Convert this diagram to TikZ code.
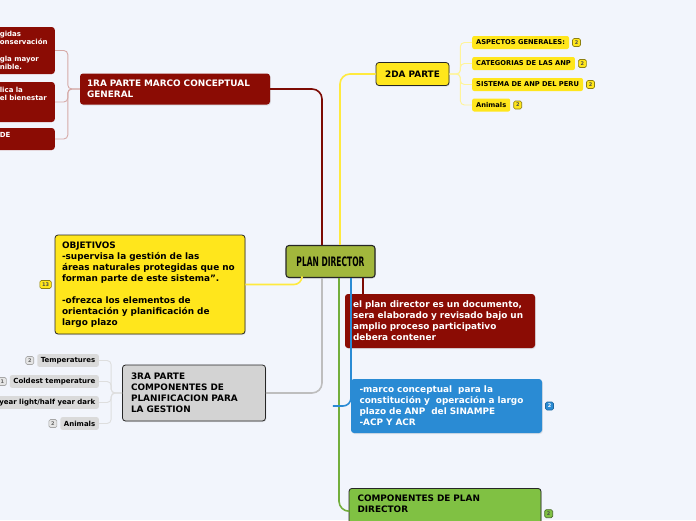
\documentclass[tikz,border=0pt]{standalone}
\usepackage{fontspec}
\setmainfont{DejaVu Sans}
\newfontfamily\pdfont[FakeStretch=0.58]{DejaVu Sans}
\usetikzlibrary{shadows}

\definecolor{paper}{HTML}{F2F5FC}
\definecolor{maroon}{HTML}{8B0C04}
\definecolor{sun}{HTML}{FFE61C}
\definecolor{olive}{HTML}{A2B73C}
\definecolor{stone}{HTML}{D3D3D3}
\definecolor{sky}{HTML}{2A8BD4}
\definecolor{leaf}{HTML}{80C143}

\tikzset{
  topic/.style={rounded corners=3pt, inner xsep=7pt, inner ysep=0pt, align=left,
    font=\bfseries\fontsize{8.9}{11}\selectfont,
    drop shadow={opacity=0.18, shadow xshift=0.8pt, shadow yshift=-1pt}},
  edged/.style={draw=black!85, line width=0.8pt},
  leafred/.style={rounded corners=3pt, fill=maroon, text=white, inner xsep=5pt, inner ysep=0pt,
    align=left, text width=50pt, font=\bfseries\fontsize{7}{8.4}\selectfont},
  tagyel/.style={rounded corners=2pt, fill=sun, inner xsep=4pt, inner ysep=0pt, minimum height=13pt,
    font=\bfseries\fontsize{6.7}{7}\selectfont},
  taggray/.style={rounded corners=2pt, fill=stone!85, inner xsep=3.5pt, inner ysep=0pt, minimum height=12.6pt,
    font=\bfseries\fontsize{7}{8}\selectfont},
  badge/.style={rounded corners=1.5pt, minimum size=8pt, inner sep=0pt, line width=0.6pt,
    font=\bfseries\fontsize{5}{5.5}\selectfont},
  badgeyel/.style={badge, fill=sun, draw=sun!55!black, text=black!70},
  badgegray/.style={badge, fill=stone!60, draw=black!35, text=black!60},
  trunk/.style={line width=1.6pt, rounded corners=10pt},
  twig/.style={line width=0.9pt, rounded corners=4pt}
}

\begin{document}
\begin{tikzpicture}[x=1pt, y=-1pt]
\useasboundingbox (0,0) rectangle (696,520);
\fill[paper] (0,0) rectangle (696,520);

% centre
\node[topic, edged, fill=olive, line width=1.1pt, align=center, minimum width=89pt, minimum height=32pt,
  font=\pdfont\bfseries\fontsize{13}{14}\selectfont] (ctr) at (330.5,261.5) {PLAN DIRECTOR};

% 1ra parte
\node[topic, fill=maroon, text=white, text width=176pt, minimum height=31pt] (marco) at (175,89)
  {1RA PARTE MARCO CONCEPTUAL\\GENERAL};
\node[leafred, minimum height=47pt, anchor=east] (ma) at (55,50.5)
  {gidas\\onservación\\~\\gla mayor\\nible.};
\node[leafred, minimum height=40pt, anchor=east] (mb) at (55,102)
  {lica la\\el bienestar\\~\\~};
\node[leafred, minimum height=22pt, anchor=east] (mc) at (55,139)
  {DE\\~};

% 2da parte
\node[topic, edged, fill=sun, align=center, minimum width=73pt, minimum height=23pt] (parte2) at (412.5,74) {2DA PARTE};
\node[tagyel, anchor=west] (asp) at (472,42.5) {ASPECTOS GENERALES:};
\node[tagyel, anchor=west] (cat) at (472,63.5) {CATEGORIAS DE LAS ANP};
\node[tagyel, anchor=west] (sis) at (472,84.5) {SISTEMA DE ANP DEL PERU};
\node[tagyel, anchor=west] (ani) at (472,105) {Animals};
\foreach \t in {asp,cat,sis,ani}
  \node[badgeyel, anchor=west] at ([xshift=3pt]\t.east) {2};

% objetivos
\node[topic, edged, fill=sun, text width=176pt, minimum height=99pt] (obj) at (150,284.5)
  {OBJETIVOS\\-supervisa la gestión de las\\áreas naturales protegidas que no\\forman parte de este sistema".\\~\\-ofrezca los elementos de\\orientación y planificación de\\largo plazo};
\node[badgeyel, minimum width=11.5pt, anchor=east] at ([xshift=-3pt]obj.west) {13};

% 3ra parte
\node[topic, edged, fill=stone, inner xsep=8.5pt, text width=126pt, minimum height=56pt] (gestion) at (194,393)
  {3RA PARTE\\COMPONENTES DE\\PLANIFICACION PARA\\LA GESTION};
\node[taggray, anchor=east] (temp) at (99,360.5) {Temperatures};
\node[taggray, anchor=east] (cold) at (99,381.5) {Coldest temperature};
\node[taggray, anchor=east] (half) at (99,402.5) {year light/half year dark};
\node[taggray, anchor=east] (anim) at (99,423.5) {Animals};
\node[badgegray, anchor=east] at ([xshift=-3pt]temp.west) {2};
\node[badgegray, anchor=east] at ([xshift=-3pt]cold.west) {1};
\node[badgegray, anchor=east] at ([xshift=-3pt]anim.west) {2};

% right side
\node[topic, fill=maroon, text=white, inner xsep=8pt, text width=174pt, minimum height=54pt] (elplan) at (440,321)
  {el plan director es un documento,\\sera elaborado y revisado bajo un\\amplio proceso participativo\\debera contener};
\node[topic, fill=sky, text=white, inner xsep=8.5pt, text width=174pt, minimum height=54pt] (sinampe) at (446.5,406)
  {-marco conceptual~ para la\\constitución y~ operación a largo\\plazo de ANP~ del SINAMPE\\-ACP Y ACR};
\node[badge, fill=sky, draw=sky!75!black, text=white, anchor=west] at ([xshift=3pt]sinampe.east) {2};
\node[topic, edged, fill=leaf, inner xsep=8.5pt, inner ysep=6pt, text width=175pt, anchor=north] (comp) at (445,488)
  {COMPONENTES DE PLAN\\DIRECTOR\\~};
\node[badge, fill=leaf, draw=leaf!55!black, text=black!70, anchor=west] at ([xshift=3pt, yshift=-5pt]comp.east) {2};

% connectors
\draw[trunk, maroon!90!black] ([xshift=-8.5pt]ctr.north) |- (marco.east);
\draw[trunk, sun!85!white] ([xshift=9.5pt]ctr.north) |- (parte2.west);
\draw[trunk, sun!85!white, rounded corners=8pt] ([xshift=-28.5pt]ctr.south) |- (obj.east);
\draw[trunk, stone!90!black] ([xshift=-8.5pt]ctr.south) |- (gestion.east);
\draw[trunk, leaf!90!black] ([xshift=8.5pt]ctr.south) |- ([yshift=-2.5pt]comp.west);
\coordinate (bluetip) at ([xshift=-18pt]sinampe.west);
\draw[trunk, sky, rounded corners=8pt] ([xshift=20.5pt]ctr.south) |- (bluetip);
\coordinate (reddown) at ([xshift=32.5pt]ctr.south);
\draw[trunk, maroon!90!black] (reddown) -- (reddown |- elplan.north);

\foreach \t in {ma,mb,mc}
  \draw[twig, maroon!35!white] (marco.west) -- ++(-12,0) |- (\t.east);
\foreach \t in {asp,cat,sis,ani}
  \draw[twig, sun!45!white] (parte2.east) -- ++(11,0) |- (\t.west);
\foreach \t in {temp,cold,half,anim}
  \draw[twig, stone!75!white] (gestion.west) -- ++(-11,0) |- (\t.east);
\end{tikzpicture}
\end{document}
